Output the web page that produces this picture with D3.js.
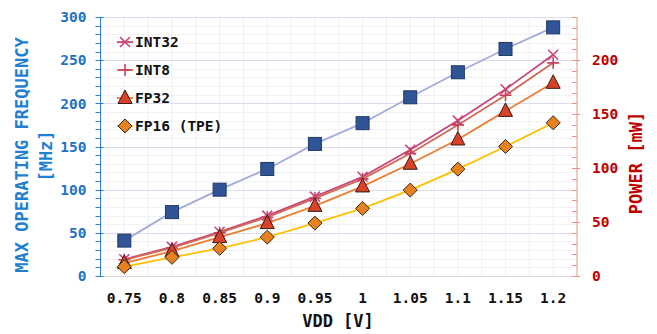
<!DOCTYPE html>
<html>
<head>
<meta charset="utf-8">
<script src="https://cdn.jsdelivr.net/npm/d3@7"></script>
<style>
  body { margin: 0; background: #fff; }
  svg { display: block; font-family: "DejaVu Sans Mono", "Liberation Mono", monospace; font-weight: bold; }
</style>
</head>
<body>
<div id="chart"></div>
<script>
// data
var vdd = ["0.75", "0.8", "0.85", "0.9", "0.95", "1", "1.05", "1.1", "1.15", "1.2"];
var freq = [41, 74, 100, 124, 153, 177, 207, 236, 263, 288];      // MHz, left axis
var int32 = [15.5, 27, 41, 56, 73.5, 92, 117, 144, 173, 205];     // mW, right axis
var int8 = [15, 26, 40, 54.5, 72, 90, 113.5, 140, 167.5, 197.5];
var fp32 = [12, 23, 36, 49, 65, 83, 104, 126.5, 153, 179];
var fp16 = [8.6, 17.3, 25.6, 36, 49, 62.6, 79.6, 99, 120, 142];
var freqTicks = [0, 50, 100, 150, 200, 250, 300];
var powerTicks = [0, 50, 100, 150, 200];

var W = 657, H = 334;
var plotL = 100.5, plotR = 577, plotT = 17, plotB = 276;

var svg = d3.select("#chart").append("svg").attr("width", W).attr("height", H);

var x = d3.scaleBand().domain(vdd).range([plotL, plotR]).padding(0);
var cx = function (i) { return x(vdd[i]) + x.bandwidth() / 2; };
var yL = d3.scaleLinear().domain([0, 300]).range([plotB, plotT]);
var yR = d3.scaleLinear().domain([0, 240]).range([plotB, plotT]);

/* grid */
var grid = svg.append("g");
var halfSteps = d3.range(0, vdd.length * 2 + 1).map(function (k) { return plotL + k * x.bandwidth() / 2; });
grid.selectAll(".vg").data(halfSteps).enter().append("line")
  .attr("x1", d => d).attr("x2", d => d).attr("y1", plotT).attr("y2", plotB)
  .attr("stroke", "#efefef").attr("stroke-width", 1);
grid.selectAll(".hg").data(d3.range(0, 301, 10)).enter().append("line")
  .attr("x1", plotL).attr("x2", plotR)
  .attr("y1", d => Math.round(yL(d)) + 0.5).attr("y2", d => Math.round(yL(d)) + 0.5)
  .attr("stroke", d => d % 50 === 0 ? "#dcdcef" : "#f1f1f4").attr("stroke-width", 1);

/* bottom axis line */
svg.append("line").attr("x1", plotL).attr("x2", plotR).attr("y1", plotB + 0.5).attr("y2", plotB + 0.5)
  .attr("stroke", "#d9d9d9");

/* left axis */
var gl = svg.append("g").attr("transform", "translate(" + plotL + ",0)");
gl.selectAll(".mt").data(d3.range(0, 301, 10)).enter().append("line")
  .attr("x1", -5).attr("x2", d => d % 50 === 0 ? 3 : 0)
  .attr("y1", d => Math.round(yL(d)) + 0.5).attr("y2", d => Math.round(yL(d)) + 0.5)
  .attr("stroke", "#2f7fd0");
gl.append("line").attr("x1", 0).attr("x2", 0).attr("y1", plotT).attr("y2", plotB + 1).attr("stroke", "#2f7fd0");
gl.selectAll("text").data(freqTicks).enter().append("text")
  .attr("x", -14).attr("y", d => yL(d)).attr("dy", "0.36em")
  .attr("text-anchor", "end").attr("fill", "#1f72c4").attr("font-size", 14.5)
  .text(d => d);

/* right axis */
var gr = svg.append("g").attr("transform", "translate(" + plotR + ",0)");
gr.selectAll(".mt").data(d3.range(0, 241, 10)).enter().append("line")
  .attr("x1", -5).attr("x2", d => d % 50 === 0 ? 3 : 0)
  .attr("y1", d => Math.round(yR(d)) + 0.5).attr("y2", d => Math.round(yR(d)) + 0.5)
  .attr("stroke", "#e8957c");
gr.append("line").attr("x1", 0).attr("x2", 0).attr("y1", plotT).attr("y2", plotB + 1).attr("stroke", "#e8a08a");
gr.selectAll("text").data(powerTicks).enter().append("text")
  .attr("x", 15).attr("y", d => yR(d)).attr("dy", "0.36em")
  .attr("text-anchor", "start").attr("fill", "#c00000").attr("font-size", 14.5)
  .text(d => d);

/* x tick labels */
svg.append("g").selectAll("text").data(vdd).enter().append("text")
  .attr("x", (d, i) => cx(i)).attr("y", 303)
  .attr("text-anchor", "middle").attr("fill", "#111").attr("font-size", 14.5)
  .text(d => d);

/* axis titles */
svg.append("text").attr("transform", "translate(28,155) rotate(-90)")
  .attr("text-anchor", "middle").attr("fill", "#1f7fd0").attr("font-size", 17)
  .text("MAX OPERATING FREQUENCY");
svg.append("text").attr("transform", "translate(52,156) rotate(-90)")
  .attr("text-anchor", "middle").attr("fill", "#1f7fd0").attr("font-size", 17)
  .text("[MHz]");
svg.append("text").attr("transform", "translate(642,163) rotate(-90)")
  .attr("text-anchor", "middle").attr("fill", "#c00000").attr("font-size", 17)
  .text("POWER [mW]");
svg.append("text").attr("x", 338).attr("y", 327)
  .attr("text-anchor", "middle").attr("fill", "#111").attr("font-size", 17)
  .text("VDD [V]");

/* markers */
function marker(g, type, color) {
  if (type === "x") {
    g.append("path").attr("d", "M-5,-5L5,5M-5,5L5,-5").attr("stroke", color).attr("stroke-width", 1.6);
  } else if (type === "plus") {
    g.append("path").attr("d", "M-6,0L6,0M0,-6L0,6").attr("stroke", color).attr("stroke-width", 1.6);
  } else if (type === "tri") {
    g.append("path").attr("d", "M0,-8L7,5.5L-7,5.5Z").attr("fill", color).attr("stroke", "#3a1a10").attr("stroke-width", 1);
  } else if (type === "dia") {
    g.append("path").attr("d", "M0,-7L7,0L0,7L-7,0Z").attr("fill", color).attr("stroke", "#3a2a10").attr("stroke-width", 1);
  } else if (type === "sq") {
    g.append("rect").attr("x", -6.5).attr("y", -6.5).attr("width", 13).attr("height", 13)
      .attr("fill", color).attr("stroke", "#1f3864").attr("stroke-width", 1);
  }
}

var series = [
  { name: "INT32", values: int32, y: yR, line: "#c9457a", type: "x", mcolor: "#c9457a" },
  { name: "INT8", values: int8, y: yR, line: "#cf6a55", type: "plus", mcolor: "#c8405c" },
  { name: "FP32", values: fp32, y: yR, line: "#ed7d31", type: "tri", mcolor: "#d9412b" },
  { name: "FP16 (TPE)", values: fp16, y: yR, line: "#ffc000", type: "dia", mcolor: "#e8821e" },
  { name: "FREQ", values: freq, y: yL, line: "#a3acd9", type: "sq", mcolor: "#2f5597" }
];

var plot = svg.append("g");
series.forEach(function (s) {
  var ln = d3.line().x((d, i) => cx(i)).y(d => s.y(d));
  plot.append("path").attr("d", ln(s.values)).attr("fill", "none")
    .attr("stroke", s.line).attr("stroke-width", 1.8);
});
series.forEach(function (s) {
  s.values.forEach(function (v, i) {
    var g = plot.append("g").attr("transform", "translate(" + cx(i) + "," + s.y(v) + ")");
    marker(g, s.type, s.mcolor);
  });
});

/* legend */
var legend = svg.append("g");
series.slice(0, 4).forEach(function (s, i) {
  var yy = 42 + i * 28;
  legend.append("line").attr("x1", 117).attr("x2", 133).attr("y1", yy).attr("y2", yy)
    .attr("stroke", s.line).attr("stroke-width", 1.8);
  marker(legend.append("g").attr("transform", "translate(125," + yy + ")"), s.type, s.mcolor);
  legend.append("text").attr("x", 135).attr("y", yy).attr("dy", "0.36em")
    .attr("fill", "#111").attr("font-size", 14.5).text(s.name);
});
</script>
</body>
</html>
